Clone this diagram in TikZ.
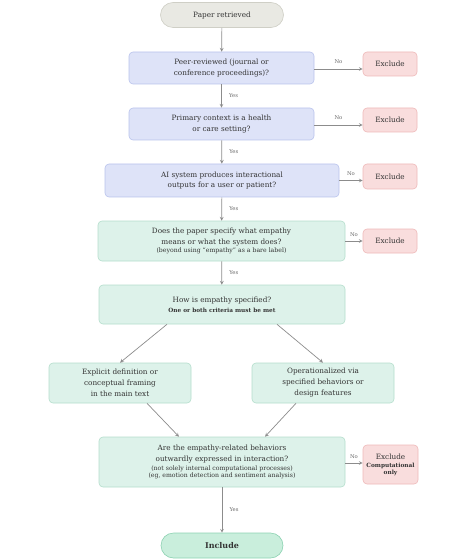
\documentclass[tikz,border=0pt]{standalone}
\usepackage{fontspec}
\setmainfont{DejaVu Serif}
\usetikzlibrary{arrows}
\definecolor{txt}{HTML}{333333}
\definecolor{labc}{HTML}{666666}
\definecolor{arrc}{HTML}{8C8C8C}
\definecolor{sfill}{HTML}{E9E9E3}
\definecolor{sline}{HTML}{CFCFC6}
\definecolor{bfill}{HTML}{DEE3F8}
\definecolor{bline}{HTML}{B9C3EC}
\definecolor{gfill}{HTML}{DDF2EA}
\definecolor{gline}{HTML}{B4DECC}
\definecolor{rfill}{HTML}{F9DDDD}
\definecolor{rline}{HTML}{EEB9B9}
\definecolor{ifill}{HTML}{C9EEDC}
\definecolor{iline}{HTML}{8DD2B2}
\newcommand{\nm}{\fontsize{7.3}{11}\selectfont}
\newcommand{\sm}{\fontsize{6.2}{8.5}\selectfont}
\newcommand{\smb}{\fontsize{5.8}{8.5}\selectfont\bfseries}
\newcommand{\lb}{\fontsize{5.3}{6}\selectfont}

\begin{document}
\begin{tikzpicture}[x=1bp,y=-1bp,>=stealth,
  box/.style={draw,rounded corners=4bp,align=center,text=txt,font=\nm,
              inner sep=2bp,line width=0.6bp},
  qblue/.style={box,fill=bfill,draw=bline},
  qgreen/.style={box,fill=gfill,draw=gline},
  exbox/.style={box,fill=rfill,draw=rline,minimum width=54bp},
  pill/.style={box,rounded corners=12.5bp,minimum width=123bp,minimum height=25bp},
  arr/.style={->,draw=arrc,line width=0.7bp},
  lab/.style={font=\lb,text=labc}]
  \useasboundingbox (0,0) rectangle (467,560);
  % boxes
  \node[pill,fill=sfill,draw=sline] (pr) at (222,15) {Paper retrieved};
  \node[qblue,minimum width=185bp,minimum height=32bp] (peer) at (221.5,68)
    {Peer-reviewed (journal or\\conference proceedings)?};
  \node[exbox,minimum height=24bp] (ex1) at (390,64) {Exclude};
  \node[qblue,minimum width=185bp,minimum height=32bp] (care) at (221.5,124)
    {Primary context is a health\\or care setting?};
  \node[exbox,minimum height=24bp] (ex2) at (390,120) {Exclude};
  \node[qblue,minimum width=234bp,minimum height=33bp] (ai) at (222,180.5)
    {AI system produces interactional\\outputs for a user or patient?};
  \node[exbox,minimum height=25bp] (ex3) at (390,176.5) {Exclude};
  \node[qgreen,minimum width=247bp,minimum height=40bp] (spec) at (221.5,241)
    {Does the paper specify what empathy\\means or what the system does?\\[-2.5bp]
     {\sm (beyond using ``empathy'' as a bare label)}};
  \node[exbox,minimum height=24bp] (ex4) at (390,241) {Exclude};
  \node[qgreen,minimum width=246bp,minimum height=39bp] (how) at (222,304.5)
    {How is empathy specified?\\[-1bp]{\smb One or both criteria must be met}};
  \node[qgreen,minimum width=142bp,minimum height=40bp] (expl) at (120,383)
    {Explicit definition or\\conceptual framing\\in the main text};
  \node[qgreen,minimum width=142bp,minimum height=40bp] (oper) at (323,383)
    {Operationalized via\\specified behaviors or\\design features};
  \node[qgreen,minimum width=246bp,minimum height=50bp] (out) at (222,462)
    {Are the empathy-related behaviors\\outwardly expressed in interaction?\\[-2.5bp]
     {\sm (not solely internal computational processes)}\\[-3.5bp]
     {\sm (eg, emotion detection and sentiment analysis)}};
  \node[exbox,minimum width=55bp,minimum height=39bp] (ex5) at (390.5,464.5)
    {Exclude\\[-3bp]{\smb Computational}\\[-4bp]{\smb only}};
  \node[pill,fill=ifill,draw=iline,minimum width=122bp,font=\fontsize{8}{10}\selectfont\bfseries]
    (inc) at (222,545.5) {Include};
  % connectors
  \draw[arr] (pr) -- (peer);
  \draw[arr] (peer) -- node[lab,right,xshift=4bp] {Yes} (care);
  \draw[arr] (care) -- node[lab,right,xshift=4bp] {Yes} (ai);
  \draw[arr] (ai) -- node[lab,right,xshift=4bp] {Yes} (spec);
  \draw[arr] (spec) -- node[lab,right,xshift=4bp] {Yes} (how);
  \draw[arr] ([xshift=-55bp]how.south) -- (expl.north);
  \draw[arr] ([xshift=55bp]how.south) -- (oper.north);
  \draw[arr] ([xshift=27bp]expl.south) -- ([xshift=-43bp]out.north);
  \draw[arr] ([xshift=-27bp]oper.south) -- ([xshift=43bp]out.north);
  \draw[arr] (out) -- node[lab,right,xshift=4bp] {Yes} (inc);
  \draw[arr] ([yshift=-1bp]peer.east) -- node[lab,above,yshift=2bp] {No} ([yshift=-1bp]peer.east -| ex1.west);
  \draw[arr] ([yshift=-1bp]care.east) -- node[lab,above,yshift=2bp] {No} ([yshift=-1bp]care.east -| ex2.west);
  \draw[arr] (ai.east) -- node[lab,above,yshift=1bp] {No} (ai.east -| ex3.west);
  \draw[arr] (spec.east) -- node[lab,above,yshift=1bp] {No} (ex4.west);
  \draw[arr] ([yshift=-1bp]out.east) -- node[lab,above,yshift=1bp] {No} ([yshift=-1bp]out.east -| ex5.west);
\end{tikzpicture}
\end{document}
